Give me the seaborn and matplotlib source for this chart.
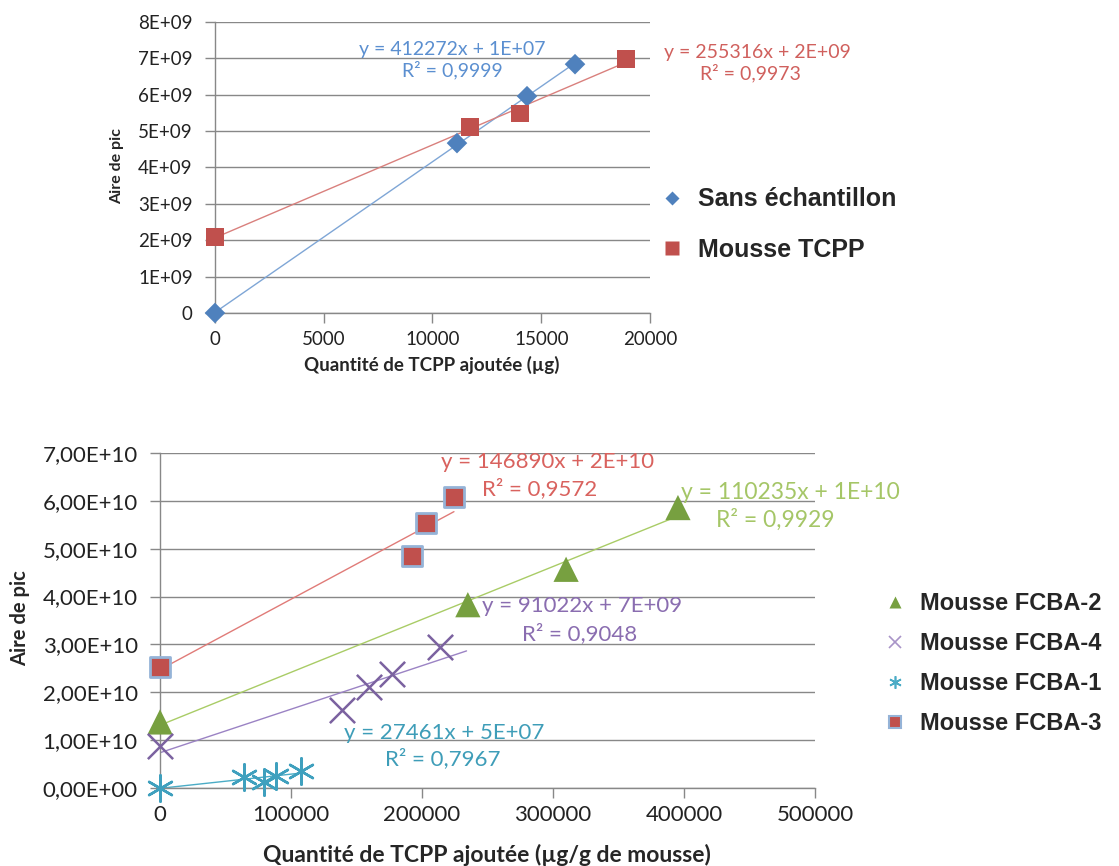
import numpy as np
import pandas as pd
import seaborn as sns
import matplotlib.pyplot as plt
from matplotlib.ticker import FuncFormatter

# Top chart: spiked amounts (µg) vs peak area
sans_x = [0, 11126, 14345, 16552]
sans_y = [0, 4.67e9, 5.96e9, 6.84e9]
tcpp_x = [0, 11724, 14023, 18897]
tcpp_y = [2.09e9, 5.11e9, 5.49e9, 6.98e9]

# Bottom chart: spiked amounts (µg/g of foam) vs peak area
fcba2_x = [0, 235000, 310000, 395400]
fcba2_y = [1.38e10, 3.83e10, 4.57e10, 5.86e10]
fcba4_x = [0, 139000, 159500, 177000, 213700]
fcba4_y = [0.88e10, 1.63e10, 2.11e10, 2.38e10, 2.95e10]
fcba1_x = [0, 64100, 79400, 88500, 107600]
fcba1_y = [0, 0.23e10, 0.13e10, 0.25e10, 0.36e10]
fcba3_x = [0, 192400, 203000, 224400]
fcba3_y = [2.53e10, 4.85e10, 5.54e10, 6.09e10]
fcba4_trend_end = 234000

sns.set_style("white")
plt.rcParams['font.family'] = ['Lato', 'DejaVu Sans']

fig = plt.figure(figsize=(11.19, 8.66), dpi=100)
ax1 = fig.add_axes([0.1921, 0.6386, 0.3888, 0.336])
ax2 = fig.add_axes([0.143, 0.0901, 0.5853, 0.3868])

blue, red, green = '#4F81BD', '#C0504D', '#9BBB59'
purple, cyan = '#8064A2', '#4BACC6'


def trend(ax, x, y, color, xmax=None):
    a, b = np.polyfit(x, y, 1)
    xs = np.array([min(x), xmax if xmax else max(x)])
    sns.lineplot(x=xs, y=a * xs + b, ax=ax, color=color, lw=1, zorder=2)


def style_axis(ax, size):
    ax.grid(axis='y', color='#888888', lw=1)
    ax.grid(axis='x', visible=False)
    for s in ['top', 'right']:
        ax.spines[s].set_visible(False)
    for s in ['left', 'bottom']:
        ax.spines[s].set_color('#888888')
        ax.spines[s].set_linewidth(1)
    ax.tick_params(axis='both', direction='out', length=7, width=1, pad=9,
                   color='#888888', labelsize=size, labelcolor='#222222',
                   left=True, bottom=True)
    ax.set_axisbelow(True)
    ax.set_xlabel('')
    ax.set_ylabel('')


# ---- Top chart ----
top = pd.concat([
    pd.DataFrame({'x': sans_x, 'y': sans_y, 's': 'Sans échantillon'}),
    pd.DataFrame({'x': tcpp_x, 'y': tcpp_y, 's': 'Mousse TCPP'}),
])
trend(ax1, sans_x, sans_y, '#7FA6D6')
trend(ax1, tcpp_x, tcpp_y, '#D9807D')
sns.scatterplot(data=top, x='x', y='y', hue='s', style='s',
                markers={'Sans échantillon': 'D', 'Mousse TCPP': 's'},
                palette={'Sans échantillon': blue, 'Mousse TCPP': red},
                size='s', sizes={'Sans échantillon': 110, 'Mousse TCPP': 160},
                edgecolor='none', ax=ax1, zorder=3, legend=False, clip_on=False)
ax1.set_xlim(0, 20000)
ax1.set_ylim(0, 8e9)
ax1.set_xticks(range(0, 20001, 5000))
ax1.set_yticks(np.arange(0, 8.01e9, 1e9))
ax1.yaxis.set_major_formatter(FuncFormatter(
    lambda v, p: '0' if v == 0 else f'{int(round(v / 1e9))}E+09'))
style_axis(ax1, 13.5)
ax1.tick_params(axis='x', pad=6)

ax1.text(10897, 7.25e9, 'y = 412272x + 1E+07', color='#5B8FD0', ha='center', va='center', fontsize=14)
ax1.text(10897, 6.68e9, 'R² = 0,9999', color='#5B8FD0', ha='center', va='center', fontsize=14)
ax1.text(24920, 7.17e9, 'y = 255316x + 2E+09', color='#D0605D', ha='center', va='center', fontsize=14)
ax1.text(24600, 6.59e9, 'R² = 0,9973', color='#D0605D', ha='center', va='center', fontsize=14)

fig.text(432 / 1119, 1 - 365 / 866, 'Quantité de TCPP ajoutée (µg)', ha='center', va='center',
         fontsize=13.5, fontweight='bold')
fig.text(117 / 1119, 1 - 166 / 866, 'Aire de pic', ha='center', va='center', rotation=90,
         fontsize=11.5, fontweight='bold')

h1 = [plt.Line2D([], [], ls='', marker='D', ms=7, color=blue, mec='none'),
      plt.Line2D([], [], ls='', marker='s', ms=10, color=red, mec='none')]
fig.legend(h1, ['Sans échantillon', 'Mousse TCPP'], loc='upper left',
           bbox_to_anchor=(636 / 1119, 1 - 165 / 866), frameon=False,
           prop={'family': 'Liberation Sans', 'weight': 'bold', 'size': 18},
           labelspacing=1.05, handletextpad=0.5, handlelength=1.1)

# ---- Bottom chart ----
trend(ax2, fcba3_x, fcba3_y, '#E07B78')
trend(ax2, fcba2_x, fcba2_y, '#A9CC66')
trend(ax2, fcba4_x, fcba4_y, '#9B83C4', xmax=fcba4_trend_end)
trend(ax2, fcba1_x, fcba1_y, '#4BACC6')

bot = pd.concat([
    pd.DataFrame({'x': fcba2_x, 'y': fcba2_y, 's': 'Mousse FCBA-2'}),
    pd.DataFrame({'x': fcba4_x, 'y': fcba4_y, 's': 'Mousse FCBA-4'}),
    pd.DataFrame({'x': fcba1_x, 'y': fcba1_y, 's': 'Mousse FCBA-1'}),
])
sns.scatterplot(data=bot[bot.s == 'Mousse FCBA-2'], x='x', y='y', marker='^', s=330,
                color='#77A040', edgecolor='none', ax=ax2, zorder=3, clip_on=False)
sns.scatterplot(data=bot[bot.s == 'Mousse FCBA-4'], x='x', y='y', marker='x', s=330,
                color='#7B62A0', linewidth=1.8, ax=ax2, zorder=3, clip_on=False)
sns.scatterplot(data=bot[bot.s == 'Mousse FCBA-1'], x='x', y='y', marker=(6, 2, 0), s=360,
                color='#3FA0BE', linewidth=1.8, ax=ax2, zorder=3, clip_on=False)
sns.scatterplot(x=fcba3_x, y=fcba3_y, marker='s', s=190, color='#C0504D',
                edgecolor='#95B3D7', linewidth=2, ax=ax2, zorder=4, clip_on=False)
ax2.set_xlim(0, 500000)
ax2.set_ylim(0, 7e10)
ax2.set_xticks(range(0, 500001, 100000))
ax2.set_yticks(np.arange(0, 7.01e10, 1e10))
ax2.yaxis.set_major_formatter(FuncFormatter(lambda v, p: f'{v:.2E}'.replace('.', ',')))
style_axis(ax2, 16)
ax2.tick_params(axis='x', pad=5)

ax2.text(296200, 6.82e10, 'y = 146890x + 2E+10', color='#D9625E', ha='center', va='center', fontsize=16)
ax2.text(290000, 6.26e10, 'R² = 0,9572', color='#D9625E', ha='center', va='center', fontsize=16)
ax2.text(481000, 6.17e10, 'y = 110235x + 1E+10', color='#A5C667', ha='center', va='center', fontsize=16.5)
ax2.text(469500, 5.61e10, 'R² = 0,9929', color='#A5C667', ha='center', va='center', fontsize=16.5)
ax2.text(322000, 3.81e10, 'y = 91022x + 7E+09', color='#8A6DB0', ha='center', va='center', fontsize=16)
ax2.text(320600, 3.22e10, 'R² = 0,9048', color='#8A6DB0', ha='center', va='center', fontsize=16)
ax2.text(216800, 1.15e10, 'y = 27461x + 5E+07', color='#3E9DB8', ha='center', va='center', fontsize=16)
ax2.text(216000, 0.61e10, 'R² = 0,7967', color='#3E9DB8', ha='center', va='center', fontsize=16)

fig.text(487 / 1119, 1 - 855 / 866, 'Quantité de TCPP ajoutée (µg/g de mousse)', ha='center',
         va='center', fontsize=16.5, fontweight='bold')
fig.text(20 / 1119, 1 - 618 / 866, 'Aire de pic', ha='center', va='center', rotation=90,
         fontsize=14.5, fontweight='bold')

h2 = [plt.Line2D([], [], ls='', marker='^', ms=9, color='#77A040', mec='none'),
      plt.Line2D([], [], ls='', marker='x', ms=9, color='#A894C8', mew=1.2),
      plt.Line2D([], [], ls='', marker=(6, 2, 0), ms=9, color='#4BACC6', mew=1.2),
      plt.Line2D([], [], ls='', marker='s', ms=8, color='#C0504D', mec='#95B3D7', mew=1.5)]
fig.legend(h2, ['Mousse FCBA-2', 'Mousse FCBA-4', 'Mousse FCBA-1', 'Mousse FCBA-3'],
           loc='upper left', bbox_to_anchor=(861 / 1119, 1 - 571 / 866), frameon=False,
           prop={'family': 'Liberation Sans', 'weight': 'bold', 'size': 17},
           labelspacing=0.72, handletextpad=0.5, handlelength=1.1)

fig.savefig('out.png', dpi=100)
